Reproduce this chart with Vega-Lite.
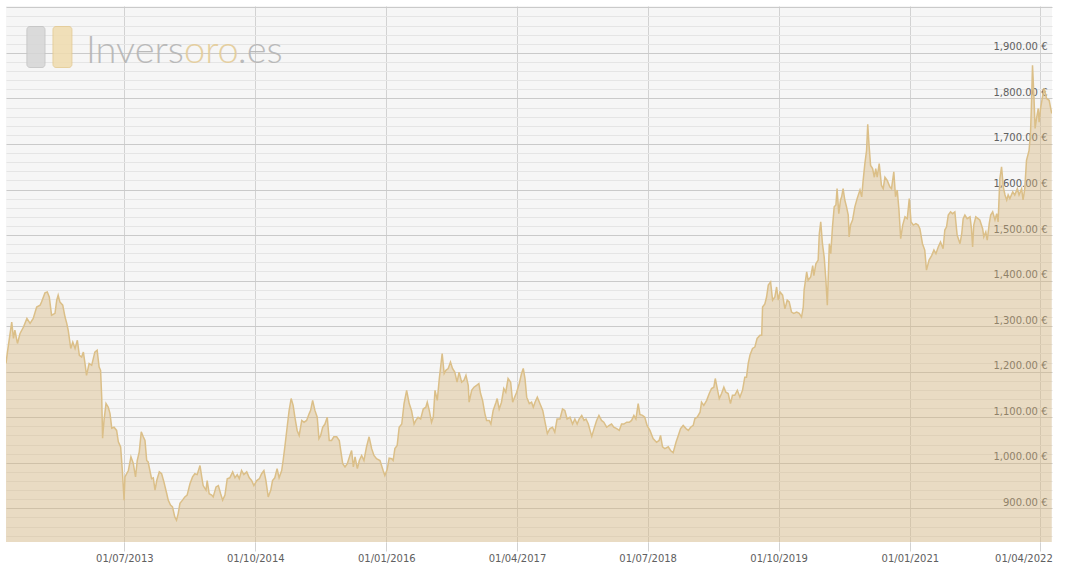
{
  "$schema": "https://vega.github.io/schema/vega-lite/v6.json",
  "width": 1046,
  "height": 536,
  "autosize": {"type": "none"},
  "padding": {"left": 6, "top": 6, "right": 13, "bottom": 27},
  "background": "#ffffff",
  "config": {"view": {"fill": "#f6f6f6", "stroke": null}},
  "data": {"values": [
{"d":"2012-05-14","p":1218},{"d":"2012-05-19","p":1243},{"d":"2012-06-03","p":1309},{"d":"2012-06-09","p":1273},{"d":"2012-06-14","p":1291},{"d":"2012-06-23","p":1262},{"d":"2012-07-02","p":1284},{"d":"2012-07-14","p":1298},{"d":"2012-07-26","p":1317},{"d":"2012-08-06","p":1306},{"d":"2012-08-17","p":1317},{"d":"2012-08-29","p":1342},{"d":"2012-09-10","p":1346},{"d":"2012-09-15","p":1353},{"d":"2012-09-27","p":1373},{"d":"2012-10-05","p":1375},{"d":"2012-10-12","p":1364},{"d":"2012-10-20","p":1324},{"d":"2012-11-01","p":1328},{"d":"2012-11-07","p":1357},{"d":"2012-11-12","p":1368},{"d":"2012-11-18","p":1353},{"d":"2012-11-28","p":1346},{"d":"2012-12-06","p":1320},{"d":"2012-12-12","p":1306},{"d":"2012-12-17","p":1291},{"d":"2012-12-26","p":1251},
{"d":"2013-01-02","p":1265},{"d":"2013-01-10","p":1251},{"d":"2013-01-18","p":1269},{"d":"2013-01-25","p":1236},{"d":"2013-02-02","p":1232},{"d":"2013-02-08","p":1243},{"d":"2013-02-13","p":1221},{"d":"2013-02-19","p":1192},{"d":"2013-02-28","p":1218},{"d":"2013-03-09","p":1214},{"d":"2013-03-20","p":1243},{"d":"2013-03-28","p":1247},{"d":"2013-04-04","p":1210},{"d":"2013-04-09","p":1203},{"d":"2013-04-13","p":1144},{"d":"2013-04-16","p":1054},{"d":"2013-04-21","p":1093},{"d":"2013-04-28","p":1130},{"d":"2013-05-06","p":1122},{"d":"2013-05-12","p":1108},{"d":"2013-05-18","p":1076},{"d":"2013-05-26","p":1078},{"d":"2013-06-04","p":1071},{"d":"2013-06-10","p":1046},{"d":"2013-06-18","p":1035},{"d":"2013-06-24","p":983},{"d":"2013-06-30","p":918},{"d":"2013-07-03","p":969},{"d":"2013-07-15","p":983},{"d":"2013-07-24","p":1013},{"d":"2013-08-01","p":999},{"d":"2013-08-09","p":969},{"d":"2013-08-15","p":1005},{"d":"2013-08-22","p":1024},{"d":"2013-08-29","p":1068},{"d":"2013-09-05","p":1057},{"d":"2013-09-11","p":1049},{"d":"2013-09-17","p":1005},{"d":"2013-09-22","p":1002},{"d":"2013-09-28","p":983},{"d":"2013-10-04","p":965},{"d":"2013-10-10","p":967},{"d":"2013-10-16","p":940},{"d":"2013-10-22","p":961},{"d":"2013-10-31","p":980},{"d":"2013-11-08","p":976},{"d":"2013-11-16","p":958},{"d":"2013-11-26","p":932},{"d":"2013-12-01","p":918},{"d":"2013-12-09","p":907},{"d":"2013-12-16","p":903},{"d":"2013-12-24","p":881},{"d":"2013-12-30","p":874},
{"d":"2014-01-05","p":889},{"d":"2014-01-11","p":911},{"d":"2014-01-20","p":918},{"d":"2014-01-28","p":925},{"d":"2014-02-05","p":929},{"d":"2014-02-15","p":954},{"d":"2014-02-24","p":969},{"d":"2014-03-04","p":976},{"d":"2014-03-12","p":974},{"d":"2014-03-22","p":994},{"d":"2014-03-28","p":969},{"d":"2014-04-02","p":950},{"d":"2014-04-12","p":940},{"d":"2014-04-16","p":961},{"d":"2014-04-23","p":932},{"d":"2014-05-02","p":929},{"d":"2014-05-07","p":925},{"d":"2014-05-17","p":947},{"d":"2014-05-25","p":950},{"d":"2014-06-02","p":932},{"d":"2014-06-09","p":918},{"d":"2014-06-17","p":929},{"d":"2014-06-25","p":965},{"d":"2014-07-04","p":967},{"d":"2014-07-14","p":980},{"d":"2014-07-22","p":967},{"d":"2014-07-30","p":974},{"d":"2014-08-06","p":965},{"d":"2014-08-14","p":983},{"d":"2014-08-22","p":974},{"d":"2014-09-01","p":980},{"d":"2014-09-10","p":967},{"d":"2014-09-18","p":961},{"d":"2014-09-26","p":950},{"d":"2014-10-06","p":961},{"d":"2014-10-15","p":965},{"d":"2014-10-23","p":976},{"d":"2014-10-31","p":983},{"d":"2014-11-07","p":961},{"d":"2014-11-15","p":925},{"d":"2014-11-24","p":940},{"d":"2014-11-30","p":961},{"d":"2014-12-08","p":967},{"d":"2014-12-16","p":987},{"d":"2014-12-23","p":967},
{"d":"2015-01-01","p":983},{"d":"2015-01-06","p":1005},{"d":"2015-01-12","p":1035},{"d":"2015-01-20","p":1078},{"d":"2015-01-27","p":1115},{"d":"2015-02-03","p":1141},{"d":"2015-02-10","p":1126},{"d":"2015-02-16","p":1100},{"d":"2015-02-24","p":1071},{"d":"2015-03-03","p":1060},{"d":"2015-03-12","p":1093},{"d":"2015-03-20","p":1089},{"d":"2015-03-29","p":1093},{"d":"2015-04-07","p":1108},{"d":"2015-04-12","p":1115},{"d":"2015-04-19","p":1137},{"d":"2015-04-27","p":1115},{"d":"2015-05-05","p":1100},{"d":"2015-05-11","p":1053},{"d":"2015-05-17","p":1060},{"d":"2015-05-24","p":1078},{"d":"2015-06-01","p":1085},{"d":"2015-06-09","p":1100},{"d":"2015-06-16","p":1049},{"d":"2015-06-24","p":1049},{"d":"2015-07-02","p":1057},{"d":"2015-07-12","p":1057},{"d":"2015-07-21","p":1049},{"d":"2015-07-26","p":1027},{"d":"2015-08-02","p":998},{"d":"2015-08-10","p":991},{"d":"2015-08-18","p":998},{"d":"2015-08-27","p":1016},{"d":"2015-09-02","p":1027},{"d":"2015-09-08","p":991},{"d":"2015-09-14","p":1013},{"d":"2015-09-22","p":987},{"d":"2015-09-29","p":1005},{"d":"2015-10-07","p":1016},{"d":"2015-10-15","p":1005},{"d":"2015-10-24","p":1035},{"d":"2015-11-02","p":1057},{"d":"2015-11-11","p":1031},{"d":"2015-11-19","p":1016},{"d":"2015-11-28","p":1009},{"d":"2015-12-10","p":1005},{"d":"2015-12-21","p":983},{"d":"2015-12-27","p":972},
{"d":"2016-01-04","p":985},{"d":"2016-01-11","p":1010},{"d":"2016-01-20","p":1009},{"d":"2016-01-25","p":1005},{"d":"2016-01-31","p":1031},{"d":"2016-02-08","p":1038},{"d":"2016-02-15","p":1078},{"d":"2016-02-24","p":1085},{"d":"2016-03-03","p":1130},{"d":"2016-03-12","p":1159},{"d":"2016-03-21","p":1130},{"d":"2016-03-29","p":1115},{"d":"2016-04-07","p":1085},{"d":"2016-04-13","p":1093},{"d":"2016-04-21","p":1100},{"d":"2016-04-30","p":1096},{"d":"2016-05-09","p":1118},{"d":"2016-05-18","p":1122},{"d":"2016-05-23","p":1133},{"d":"2016-05-30","p":1115},{"d":"2016-06-07","p":1089},{"d":"2016-06-13","p":1100},{"d":"2016-06-19","p":1159},{"d":"2016-06-27","p":1137},{"d":"2016-07-04","p":1185},{"d":"2016-07-10","p":1218},{"d":"2016-07-14","p":1240},{"d":"2016-07-21","p":1196},{"d":"2016-07-27","p":1203},{"d":"2016-08-04","p":1207},{"d":"2016-08-12","p":1221},{"d":"2016-08-19","p":1207},{"d":"2016-08-27","p":1199},{"d":"2016-09-04","p":1177},{"d":"2016-09-11","p":1199},{"d":"2016-09-20","p":1177},{"d":"2016-09-28","p":1181},{"d":"2016-10-05","p":1192},{"d":"2016-10-13","p":1170},{"d":"2016-10-16","p":1133},{"d":"2016-10-25","p":1159},{"d":"2016-11-02","p":1166},{"d":"2016-11-11","p":1170},{"d":"2016-11-19","p":1174},{"d":"2016-11-25","p":1152},{"d":"2016-12-02","p":1137},{"d":"2016-12-10","p":1108},{"d":"2016-12-16","p":1093},{"d":"2016-12-25","p":1093},{"d":"2016-12-31","p":1085},
{"d":"2017-01-08","p":1115},{"d":"2017-01-18","p":1133},{"d":"2017-01-22","p":1141},{"d":"2017-01-29","p":1118},{"d":"2017-02-06","p":1133},{"d":"2017-02-14","p":1163},{"d":"2017-02-21","p":1155},{"d":"2017-03-01","p":1185},{"d":"2017-03-10","p":1177},{"d":"2017-03-17","p":1133},{"d":"2017-03-22","p":1141},{"d":"2017-03-31","p":1155},{"d":"2017-04-09","p":1174},{"d":"2017-04-17","p":1196},{"d":"2017-04-23","p":1207},{"d":"2017-04-29","p":1185},{"d":"2017-05-05","p":1144},{"d":"2017-05-14","p":1130},{"d":"2017-05-22","p":1133},{"d":"2017-05-28","p":1122},{"d":"2017-06-03","p":1133},{"d":"2017-06-11","p":1144},{"d":"2017-06-20","p":1130},{"d":"2017-06-30","p":1115},{"d":"2017-07-08","p":1089},{"d":"2017-07-16","p":1064},{"d":"2017-07-25","p":1075},{"d":"2017-08-03","p":1078},{"d":"2017-08-11","p":1067},{"d":"2017-08-19","p":1096},{"d":"2017-08-29","p":1096},{"d":"2017-09-07","p":1118},{"d":"2017-09-15","p":1115},{"d":"2017-09-23","p":1096},{"d":"2017-10-03","p":1100},{"d":"2017-10-12","p":1085},{"d":"2017-10-20","p":1096},{"d":"2017-10-28","p":1085},{"d":"2017-11-04","p":1096},{"d":"2017-11-13","p":1104},{"d":"2017-11-21","p":1093},{"d":"2017-11-28","p":1096},{"d":"2017-12-06","p":1085},{"d":"2017-12-12","p":1071},{"d":"2017-12-18","p":1058},{"d":"2017-12-26","p":1075},
{"d":"2018-01-04","p":1093},{"d":"2018-01-12","p":1104},{"d":"2018-01-21","p":1093},{"d":"2018-01-29","p":1089},{"d":"2018-02-08","p":1078},{"d":"2018-02-17","p":1082},{"d":"2018-02-25","p":1085},{"d":"2018-03-05","p":1078},{"d":"2018-03-15","p":1075},{"d":"2018-03-24","p":1071},{"d":"2018-04-01","p":1085},{"d":"2018-04-09","p":1085},{"d":"2018-04-19","p":1089},{"d":"2018-04-28","p":1089},{"d":"2018-05-06","p":1093},{"d":"2018-05-14","p":1104},{"d":"2018-05-21","p":1096},{"d":"2018-05-29","p":1130},{"d":"2018-06-04","p":1106},{"d":"2018-06-13","p":1104},{"d":"2018-06-21","p":1100},{"d":"2018-06-29","p":1082},{"d":"2018-07-09","p":1071},{"d":"2018-07-20","p":1053},{"d":"2018-08-01","p":1045},{"d":"2018-08-10","p":1049},{"d":"2018-08-15","p":1060},{"d":"2018-08-22","p":1035},{"d":"2018-08-30","p":1031},{"d":"2018-09-11","p":1035},{"d":"2018-09-19","p":1027},{"d":"2018-09-28","p":1022},{"d":"2018-10-08","p":1045},{"d":"2018-10-16","p":1060},{"d":"2018-10-24","p":1075},{"d":"2018-11-02","p":1082},{"d":"2018-11-12","p":1075},{"d":"2018-11-20","p":1071},{"d":"2018-11-28","p":1078},{"d":"2018-12-07","p":1082},{"d":"2018-12-13","p":1097},{"d":"2018-12-21","p":1100},{"d":"2018-12-31","p":1111},
{"d":"2019-01-05","p":1133},{"d":"2019-01-13","p":1126},{"d":"2019-01-23","p":1137},{"d":"2019-02-01","p":1152},{"d":"2019-02-09","p":1163},{"d":"2019-02-17","p":1166},{"d":"2019-02-22","p":1185},{"d":"2019-03-01","p":1163},{"d":"2019-03-08","p":1141},{"d":"2019-03-16","p":1152},{"d":"2019-03-24","p":1166},{"d":"2019-03-31","p":1155},{"d":"2019-04-08","p":1152},{"d":"2019-04-16","p":1130},{"d":"2019-04-23","p":1148},{"d":"2019-05-01","p":1148},{"d":"2019-05-10","p":1159},{"d":"2019-05-19","p":1144},{"d":"2019-05-28","p":1159},{"d":"2019-06-05","p":1188},{"d":"2019-06-11","p":1188},{"d":"2019-06-17","p":1218},{"d":"2019-06-23","p":1236},{"d":"2019-07-02","p":1251},{"d":"2019-07-10","p":1254},{"d":"2019-07-18","p":1273},{"d":"2019-07-28","p":1280},{"d":"2019-08-03","p":1280},{"d":"2019-08-06","p":1342},{"d":"2019-08-14","p":1349},{"d":"2019-08-20","p":1364},{"d":"2019-08-26","p":1390},{"d":"2019-09-03","p":1397},{"d":"2019-09-10","p":1357},{"d":"2019-09-18","p":1364},{"d":"2019-09-24","p":1386},{"d":"2019-09-30","p":1357},{"d":"2019-10-06","p":1375},{"d":"2019-10-15","p":1368},{"d":"2019-10-23","p":1338},{"d":"2019-10-31","p":1357},{"d":"2019-11-07","p":1353},{"d":"2019-11-15","p":1331},{"d":"2019-11-23","p":1328},{"d":"2019-12-03","p":1331},{"d":"2019-12-12","p":1328},{"d":"2019-12-20","p":1320},{"d":"2019-12-26","p":1342},{"d":"2019-12-29","p":1379},
{"d":"2020-01-07","p":1419},{"d":"2020-01-12","p":1401},{"d":"2020-01-21","p":1408},{"d":"2020-01-28","p":1433},{"d":"2020-02-01","p":1411},{"d":"2020-02-08","p":1437},{"d":"2020-02-16","p":1445},{"d":"2020-02-20","p":1503},{"d":"2020-02-25","p":1529},{"d":"2020-03-02","p":1481},{"d":"2020-03-08","p":1452},{"d":"2020-03-14","p":1401},{"d":"2020-03-19","p":1346},{"d":"2020-03-26","p":1481},{"d":"2020-03-31","p":1459},{"d":"2020-04-06","p":1518},{"d":"2020-04-12","p":1562},{"d":"2020-04-18","p":1566},{"d":"2020-04-22","p":1602},{"d":"2020-04-28","p":1547},{"d":"2020-05-04","p":1577},{"d":"2020-05-08","p":1584},{"d":"2020-05-13","p":1602},{"d":"2020-05-19","p":1577},{"d":"2020-05-25","p":1562},{"d":"2020-05-31","p":1544},{"d":"2020-06-03","p":1496},{"d":"2020-06-08","p":1522},{"d":"2020-06-15","p":1533},{"d":"2020-06-23","p":1562},{"d":"2020-07-01","p":1580},{"d":"2020-07-11","p":1599},{"d":"2020-07-17","p":1584},{"d":"2020-07-22","p":1620},{"d":"2020-07-28","p":1657},{"d":"2020-08-03","p":1686},{"d":"2020-08-07","p":1743},{"d":"2020-08-12","p":1694},{"d":"2020-08-17","p":1653},{"d":"2020-08-24","p":1646},{"d":"2020-08-30","p":1627},{"d":"2020-09-04","p":1646},{"d":"2020-09-09","p":1627},{"d":"2020-09-16","p":1657},{"d":"2020-09-24","p":1609},{"d":"2020-09-30","p":1602},{"d":"2020-10-06","p":1627},{"d":"2020-10-14","p":1620},{"d":"2020-10-23","p":1606},{"d":"2020-10-29","p":1602},{"d":"2020-11-06","p":1639},{"d":"2020-11-12","p":1584},{"d":"2020-11-18","p":1599},{"d":"2020-11-24","p":1555},{"d":"2020-11-30","p":1492},{"d":"2020-12-07","p":1522},{"d":"2020-12-15","p":1540},{"d":"2020-12-23","p":1536},{"d":"2020-12-30","p":1580},
{"d":"2021-01-05","p":1529},{"d":"2021-01-13","p":1522},{"d":"2021-01-22","p":1525},{"d":"2021-01-30","p":1522},{"d":"2021-02-05","p":1514},{"d":"2021-02-14","p":1481},{"d":"2021-02-22","p":1467},{"d":"2021-02-28","p":1423},{"d":"2021-03-09","p":1445},{"d":"2021-03-18","p":1455},{"d":"2021-03-26","p":1467},{"d":"2021-04-02","p":1459},{"d":"2021-04-10","p":1474},{"d":"2021-04-18","p":1485},{"d":"2021-04-27","p":1470},{"d":"2021-05-03","p":1511},{"d":"2021-05-09","p":1518},{"d":"2021-05-15","p":1544},{"d":"2021-05-23","p":1551},{"d":"2021-05-30","p":1547},{"d":"2021-06-07","p":1551},{"d":"2021-06-15","p":1500},{"d":"2021-06-25","p":1481},{"d":"2021-07-01","p":1503},{"d":"2021-07-06","p":1536},{"d":"2021-07-12","p":1544},{"d":"2021-07-20","p":1536},{"d":"2021-07-30","p":1540},{"d":"2021-08-04","p":1514},{"d":"2021-08-08","p":1474},{"d":"2021-08-12","p":1522},{"d":"2021-08-19","p":1540},{"d":"2021-08-27","p":1536},{"d":"2021-09-02","p":1533},{"d":"2021-09-12","p":1514},{"d":"2021-09-16","p":1496},{"d":"2021-09-23","p":1507},{"d":"2021-09-28","p":1489},{"d":"2021-10-05","p":1525},{"d":"2021-10-10","p":1544},{"d":"2021-10-17","p":1551},{"d":"2021-10-25","p":1533},{"d":"2021-10-31","p":1547},{"d":"2021-11-05","p":1529},{"d":"2021-11-11","p":1624},{"d":"2021-11-17","p":1650},{"d":"2021-11-23","p":1606},{"d":"2021-11-29","p":1588},{"d":"2021-12-05","p":1577},{"d":"2021-12-10","p":1588},{"d":"2021-12-16","p":1580},{"d":"2021-12-26","p":1595},
{"d":"2022-01-02","p":1588},{"d":"2022-01-11","p":1602},{"d":"2022-01-17","p":1588},{"d":"2022-01-26","p":1602},{"d":"2022-01-31","p":1577},{"d":"2022-02-06","p":1602},{"d":"2022-02-12","p":1664},{"d":"2022-02-21","p":1686},{"d":"2022-02-26","p":1723},{"d":"2022-03-01","p":1781},{"d":"2022-03-05","p":1873},{"d":"2022-03-10","p":1804},{"d":"2022-03-14","p":1734},{"d":"2022-03-19","p":1756},{"d":"2022-03-25","p":1778},{"d":"2022-03-28","p":1748},{"d":"2022-04-02","p":1778},{"d":"2022-04-09","p":1804},{"d":"2022-04-15","p":1822},{"d":"2022-04-23","p":1800},{"d":"2022-05-02","p":1796},{"d":"2022-05-11","p":1767}
  ]},
  "layer": [
    {
      "mark": {"type": "area", "fill": "#d6b579", "fillOpacity": 0.4, "clip": true},
      "encoding": {
        "x": {"field": "d", "type": "temporal",
          "scale": {"type": "utc", "domain": [{"year":2012,"month":5,"date":14,"utc":true},{"year":2022,"month":5,"date":12,"utc":true}]},
          "axis": {
            "values": [{"year":2013,"month":7,"date":1,"utc":true},{"year":2014,"month":10,"date":1,"utc":true},{"year":2016,"month":1,"date":1,"utc":true},{"year":2017,"month":4,"date":1,"utc":true},{"year":2018,"month":7,"date":1,"utc":true},{"year":2019,"month":10,"date":1,"utc":true},{"year":2021,"month":1,"date":1,"utc":true},{"year":2022,"month":4,"date":1,"utc":true}],
            "tickCount": 50,
            "labelExpr": "utcFormat(datum.value, '%d/%m/%Y')",
            "title": null, "domain": false,
            "grid": true, "gridColor": "#d2d2d2", "gridWidth": 1,
            "ticks": true, "tickSize": 9, "tickColor": "#d2d2d2",
            "labelFont": "DejaVu Sans", "labelFontSize": 10, "labelColor": "#606060",
            "labelPadding": 2, "labelFlush": 15, "labelFlushOffset": 12, "labelOverlap": false
          }},
        "y": {"field": "p", "type": "quantitative", "stack": null,
          "scale": {"domain": [826, 2003], "nice": false, "zero": false},
          "axis": {
            "orient": "right",
            "values": [840,860,880,900,920,940,960,980,1000,1020,1040,1060,1080,1100,1120,1140,1160,1180,1200,1220,1240,1260,1280,1300,1320,1340,1360,1380,1400,1420,1440,1460,1480,1500,1520,1540,1560,1580,1600,1620,1640,1660,1680,1700,1720,1740,1760,1780,1800,1820,1840,1860,1880,1900,1920,1940,1960,1980,2000],
            "tickCount": 200,
            "labelExpr": "datum.value % 100 === 0 && datum.value < 2000 ? format(datum.value, ',.2f') + ' €' : ''",
            "title": null, "domain": false, "ticks": false, "tickSize": 0,
            "grid": true, "gridWidth": 1,
            "gridColor": {"condition": {"test": "datum.value % 100 === 0", "value": "#cacaca"}, "value": "#e5e5e5"},
            "labelAlign": "right", "labelBaseline": "alphabetic", "labelPadding": -5, "labelOffset": -3,
            "labelFont": "DejaVu Sans", "labelFontSize": 10, "labelColor": "#606060",
            "labelOverlap": false, "labelBound": false, "labelFlush": false
          }}
      }
    },
    {
      "mark": {"type": "line", "stroke": "#dbbf88", "strokeWidth": 1.5, "clip": true},
      "encoding": {
        "x": {"field": "d", "type": "temporal",
          "scale": {"type": "utc", "domain": [{"year":2012,"month":5,"date":14,"utc":true},{"year":2022,"month":5,"date":12,"utc":true}]}},
        "y": {"field": "p", "type": "quantitative", "stack": null,
          "scale": {"domain": [826, 2003], "nice": false, "zero": false}}
      }
    },
    {
      "data": {"values": [{}]},
      "mark": {"type": "rect", "fill": "#d6d6d6", "stroke": "#c2c2c2", "strokeWidth": 1, "cornerRadius": 3, "opacity": 0.85},
      "encoding": {
        "x": {"datum": {"year":2012,"month":7,"date":26,"utc":true}, "type": "temporal",
          "scale": {"type": "utc", "domain": [{"year":2012,"month":5,"date":14,"utc":true},{"year":2022,"month":5,"date":12,"utc":true}]}},
        "x2": {"datum": {"year":2012,"month":9,"date":27,"utc":true}},
        "y": {"datum": 1958, "type": "quantitative",
          "scale": {"domain": [826, 2003], "nice": false, "zero": false}},
        "y2": {"datum": 1868}
      }
    },
    {
      "data": {"values": [{}]},
      "mark": {"type": "rect", "fill": "#f0dcae", "stroke": "#e4c98f", "strokeWidth": 1, "cornerRadius": 3, "opacity": 0.85},
      "encoding": {
        "x": {"datum": {"year":2012,"month":10,"date":25,"utc":true}, "type": "temporal",
          "scale": {"type": "utc", "domain": [{"year":2012,"month":5,"date":14,"utc":true},{"year":2022,"month":5,"date":12,"utc":true}]}},
        "x2": {"datum": {"year":2012,"month":12,"date":30,"utc":true}},
        "y": {"datum": 1958, "type": "quantitative",
          "scale": {"domain": [826, 2003], "nice": false, "zero": false}},
        "y2": {"datum": 1868}
      }
    },
    {
      "data": {"values": [{}]},
      "mark": {"type": "text", "text": "Invers", "align": "left", "baseline": "alphabetic", "font": "Lato", "fontWeight": 300, "fontSize": 38, "fill": "#b4b4b4", "opacity": 0.9},
      "encoding": {
        "x": {"datum": {"year":2013,"month":2,"date":17,"utc":true}, "type": "temporal",
          "scale": {"type": "utc", "domain": [{"year":2012,"month":5,"date":14,"utc":true},{"year":2022,"month":5,"date":12,"utc":true}]}},
        "y": {"datum": 1877, "type": "quantitative",
          "scale": {"domain": [826, 2003], "nice": false, "zero": false}}
      }
    },
    {
      "data": {"values": [{}]},
      "mark": {"type": "text", "text": "oro", "align": "left", "baseline": "alphabetic", "font": "Lato", "fontWeight": 300, "fontSize": 38, "fill": "#e4cc98", "opacity": 0.9},
      "encoding": {
        "x": {"datum": {"year":2014,"month":1,"date":25,"utc":true}, "type": "temporal",
          "scale": {"type": "utc", "domain": [{"year":2012,"month":5,"date":14,"utc":true},{"year":2022,"month":5,"date":12,"utc":true}]}},
        "y": {"datum": 1877, "type": "quantitative",
          "scale": {"domain": [826, 2003], "nice": false, "zero": false}}
      }
    },
    {
      "data": {"values": [{}]},
      "mark": {"type": "text", "text": ".es", "align": "left", "baseline": "alphabetic", "font": "Lato", "fontWeight": 300, "fontSize": 38, "fill": "#b4b4b4", "opacity": 0.9},
      "encoding": {
        "x": {"datum": {"year":2014,"month":8,"date":1,"utc":true}, "type": "temporal",
          "scale": {"type": "utc", "domain": [{"year":2012,"month":5,"date":14,"utc":true},{"year":2022,"month":5,"date":12,"utc":true}]}},
        "y": {"datum": 1877, "type": "quantitative",
          "scale": {"domain": [826, 2003], "nice": false, "zero": false}}
      }
    }
  ]
}
